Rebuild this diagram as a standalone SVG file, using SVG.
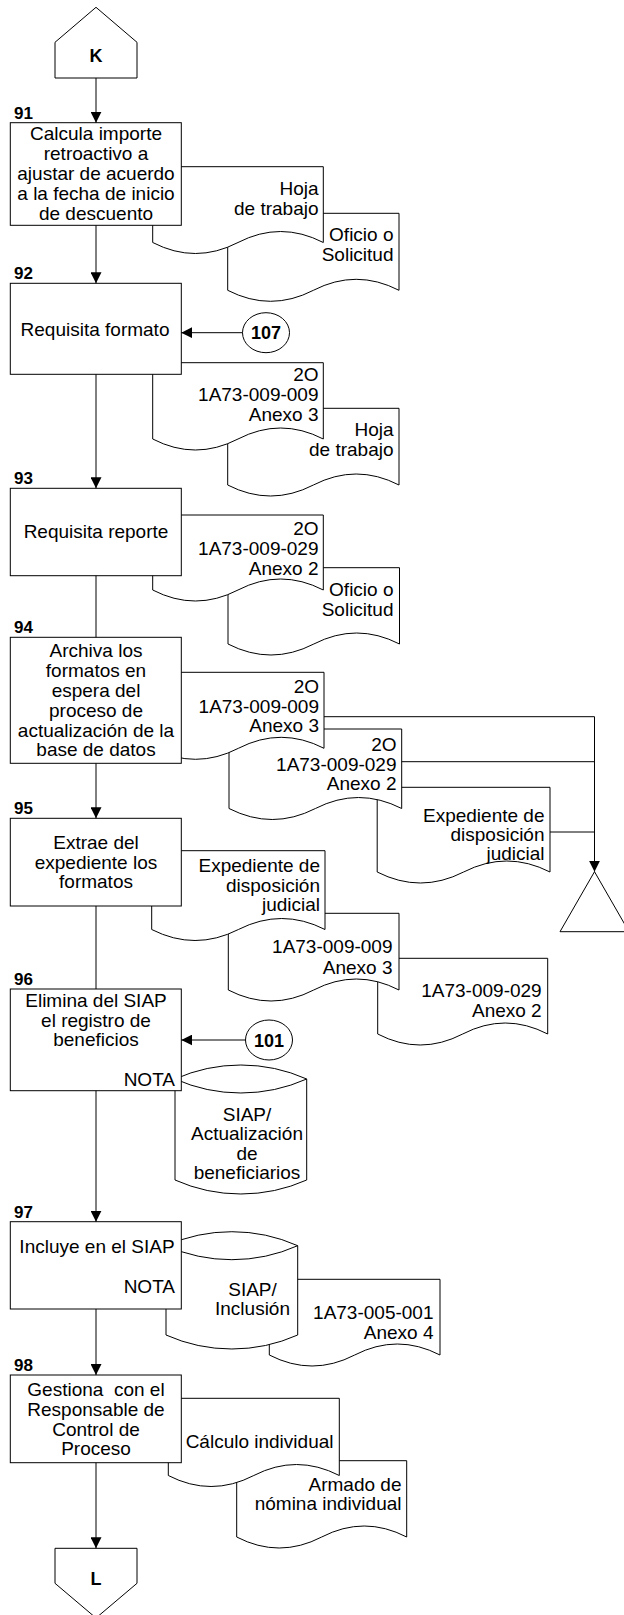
<svg xmlns="http://www.w3.org/2000/svg" width="624" height="1615" viewBox="0 0 624 1615">
  <defs>
    <marker id="arrow" markerUnits="userSpaceOnUse" markerWidth="11" markerHeight="11" viewBox="0 0 11 11" refX="11" refY="5.5" orient="auto">
      <path d="M0,0 L11,5.5 L0,11 Z" fill="#000"/>
    </marker>
    <style>
      .s { fill: #fff; stroke: #000; stroke-width: 1; }
      .ln { fill: none; stroke: #000; stroke-width: 1; }
      text { font-family: "Liberation Sans", Arial, Helvetica, sans-serif; font-size: 19px; fill: #000; }
      .c { text-anchor: middle; }
      .r { text-anchor: end; }
      .num { font-size: 17px; font-weight: bold; }
      .b { font-size: 18px; font-weight: bold; text-anchor: middle; }
      .pre { white-space: pre; }
    </style>
  </defs>

  <rect width="624" height="1615" fill="#fff"/>

  <!-- Off-page connector K -->
  <g id="conn-K">
    <path class="s" d="M55,42.3 L96,7.3 L137,42.3 V78 H55 Z"/>
    <text class="b" x="96" y="61.5">K</text>
  </g>

  <!-- Step 91 -->
  <g id="doc-91b">
    <path class="s" d="M227.7,213.3 H399 V290.3 Q356.2,268.3 313.4,290.3 T227.7,290.3 Z"/>
    <text class="r" x="393.5" y="241">Oficio o</text>
    <text class="r" x="393.5" y="260.5">Solicitud</text>
  </g>
  <g id="doc-91a">
    <path class="s" d="M152.7,166.7 H323.3 V242.5 Q280.6,220.5 238,242.5 T152.7,242.5 Z"/>
    <text class="r" x="318.5" y="195">Hoja</text>
    <text class="r" x="318.5" y="214.5">de trabajo</text>
  </g>
  <g id="step-91">
    <text class="num" x="14" y="119">91</text>
    <rect class="s" x="10.3" y="122.7" width="171" height="102.6"/>
    <text class="c" x="96" y="140">Calcula importe</text>
    <text class="c" x="96" y="160">retroactivo a</text>
    <text class="c" x="96" y="180">ajustar de acuerdo</text>
    <text class="c" x="96" y="200">a la fecha de inicio</text>
    <text class="c" x="96" y="220">de descuento</text>
  </g>

  <!-- Step 92 -->
  <g id="doc-92b">
    <path class="s" d="M227.7,408.3 H399 V485 Q356.2,463 313.4,485 T227.7,485 Z"/>
    <text class="r" x="393.5" y="436">Hoja</text>
    <text class="r" x="393.5" y="456">de trabajo</text>
  </g>
  <g id="doc-92a">
    <path class="s" d="M152.7,362.7 H323.3 V439 Q280.6,417 238,439 T152.7,439 Z"/>
    <text class="r" x="318.5" y="381">2O</text>
    <text class="r" x="318.5" y="401">1A73-009-009</text>
    <text class="r" x="318.5" y="421">Anexo 3</text>
  </g>
  <g id="step-92">
    <text class="num" x="14" y="279">92</text>
    <rect class="s" x="10.3" y="283.3" width="171" height="91"/>
    <text class="c" x="95" y="335.5">Requisita formato</text>
  </g>
  <g id="ref-107">
    <ellipse class="s" cx="266" cy="332.7" rx="23.5" ry="20"/>
    <text class="b" x="266" y="339">107</text>
  </g>

  <!-- Step 93 -->
  <g id="doc-93b">
    <path class="s" d="M228,567.7 H399.5 V644 Q356.6,622 313.8,644 T228,644 Z"/>
    <text class="r" x="393.5" y="596">Oficio o</text>
    <text class="r" x="393.5" y="615.5">Solicitud</text>
  </g>
  <g id="doc-93a">
    <path class="s" d="M152.7,515 H323.3 V590 Q280.6,568 238,590 T152.7,590 Z"/>
    <text class="r" x="318.5" y="535">2O</text>
    <text class="r" x="318.5" y="555">1A73-009-029</text>
    <text class="r" x="318.5" y="574.5">Anexo 2</text>
  </g>
  <g id="step-93">
    <text class="num" x="14" y="484">93</text>
    <rect class="s" x="10.3" y="488.3" width="171" height="87.4"/>
    <text class="c" x="96" y="537.5">Requisita reporte</text>
  </g>

  <!-- Step 94 -->
  <g id="doc-94c">
    <path class="s" d="M377.2,787.3 H550 V872 Q506.8,850 463.6,872 T377.2,872 Z"/>
    <text class="r" x="544.5" y="821.5">Expediente de</text>
    <text class="r" x="544.5" y="840.5">disposición</text>
    <text class="r" x="544.5" y="859.5">judicial</text>
  </g>
  <g id="doc-94b">
    <path class="s" d="M229,729 H401.7 V808.5 Q358.5,786.5 315.4,808.5 T229,808.5 Z"/>
    <text class="r" x="396.5" y="750.5">2O</text>
    <text class="r" x="396.5" y="770.5">1A73-009-029</text>
    <text class="r" x="396.5" y="790">Anexo 2</text>
  </g>
  <g id="doc-94a">
    <path class="s" d="M152.7,672.3 H324 V748.3 Q281.2,726.3 238.4,748.3 T152.7,748.3 Z"/>
    <text class="r" x="319" y="693">2O</text>
    <text class="r" x="319" y="712.5">1A73-009-009</text>
    <text class="r" x="319" y="731.5">Anexo 3</text>
  </g>
  <g id="step-94">
    <text class="num" x="14" y="633">94</text>
    <rect class="s" x="10.3" y="637.3" width="171" height="126"/>
    <text class="c" x="96" y="657">Archiva los</text>
    <text class="c" x="96" y="677">formatos en</text>
    <text class="c" x="96" y="697">espera del</text>
    <text class="c" x="96" y="716.5">proceso de</text>
    <text class="c" x="96" y="736.5">actualización de la</text>
    <text class="c" x="96" y="756">base de datos</text>
  </g>
  <g id="archive">
    <path class="s" d="M594.5,871.7 L560,931.7 H629 Z"/>
  </g>

  <!-- Step 95 -->
  <g id="doc-95c">
    <path class="s" d="M377.7,958.3 H547.7 V1034 Q505.2,1012 462.7,1034 T377.7,1034 Z"/>
    <text class="r" x="541.7" y="997">1A73-009-029</text>
    <text class="r" x="541.7" y="1017">Anexo 2</text>
  </g>
  <g id="doc-95b">
    <path class="s" d="M228.3,913.3 H399 V990 Q356.3,968 313.7,990 T228.3,990 Z"/>
    <text class="r" x="392.5" y="953">1A73-009-009</text>
    <text class="r" x="392.5" y="973.5">Anexo 3</text>
  </g>
  <g id="doc-95a">
    <path class="s" d="M151.7,850.7 H325 V929.5 Q281.7,907.5 238.4,929.5 T151.7,929.5 Z"/>
    <text class="r" x="320" y="872">Expediente de</text>
    <text class="r" x="320" y="891.5">disposición</text>
    <text class="r" x="320" y="910.5">judicial</text>
  </g>
  <g id="step-95">
    <text class="num" x="14" y="814">95</text>
    <rect class="s" x="10.3" y="818.3" width="171" height="87.7"/>
    <text class="c" x="96" y="849">Extrae del</text>
    <text class="c" x="96" y="869">expediente los</text>
    <text class="c" x="96" y="888">formatos</text>
  </g>

  <!-- Step 96 -->
  <g id="db-96">
    <path class="s" d="M175,1079 A161.9,161.9 0 0 1 306.7,1079 V1180 A161.9,161.9 0 0 1 175,1180 Z"/>
    <path class="ln" d="M175,1079 A161.9,161.9 0 0 0 306.7,1079"/>
    <text class="c" x="247" y="1120.5">SIAP/</text>
    <text class="c" x="247" y="1140">Actualización</text>
    <text class="c" x="247" y="1159.5">de</text>
    <text class="c" x="247" y="1179">beneficiarios</text>
  </g>
  <g id="step-96">
    <text class="num" x="14" y="985">96</text>
    <rect class="s" x="10.3" y="989" width="171" height="101.7"/>
    <text class="c" x="96" y="1007">Elimina del SIAP</text>
    <text class="c" x="96" y="1026.5">el registro de</text>
    <text class="c" x="96" y="1046">beneficios</text>
    <text class="r" x="175" y="1086">NOTA</text>
  </g>
  <g id="ref-101">
    <ellipse class="s" cx="269" cy="1040" rx="23.5" ry="20"/>
    <text class="b" x="269" y="1046.5">101</text>
  </g>

  <!-- Step 97 -->
  <g id="doc-97">
    <path class="s" d="M269.3,1279.3 H440 V1355 Q397.3,1333 354.7,1355 T269.3,1355 Z"/>
    <text class="r" x="433.5" y="1319">1A73-005-001</text>
    <text class="r" x="433.5" y="1339">Anexo 4</text>
  </g>
  <g id="db-97">
    <path class="s" d="M166,1245.7 A161.9,161.9 0 0 1 297.7,1245.7 V1335 A161.9,161.9 0 0 1 166,1335 Z"/>
    <path class="ln" d="M166,1245.7 A161.9,161.9 0 0 0 297.7,1245.7"/>
    <text class="c" x="252.5" y="1296">SIAP/</text>
    <text class="c" x="252.5" y="1315">Inclusión</text>
  </g>
  <g id="step-97">
    <text class="num" x="14" y="1217.5">97</text>
    <rect class="s" x="10.3" y="1221.7" width="171" height="87.3"/>
    <text class="c" x="97" y="1253">Incluye en el SIAP</text>
    <text class="r" x="175" y="1292.5">NOTA</text>
  </g>

  <!-- Step 98 -->
  <g id="doc-98b">
    <path class="s" d="M236.7,1460.7 H406.7 V1537 Q364.2,1515 321.7,1537 T236.7,1537 Z"/>
    <text class="r" x="401.5" y="1490.5">Armado de</text>
    <text class="r" x="401.5" y="1510">nómina individual</text>
  </g>
  <g id="doc-98a">
    <path class="s" d="M168.3,1398.3 H339.3 V1475.5 Q296.5,1453.5 253.8,1475.5 T168.3,1475.5 Z"/>
    <text class="r" x="333.5" y="1448">Cálculo individual</text>
  </g>
  <g id="step-98">
    <text class="num" x="14" y="1371">98</text>
    <rect class="s" x="10.3" y="1375" width="171" height="87.7"/>
    <text class="c pre" x="96" y="1395.5" xml:space="preserve">Gestiona  con el</text>
    <text class="c" x="96" y="1415.5">Responsable de</text>
    <text class="c" x="96" y="1435.5">Control de</text>
    <text class="c" x="96" y="1455">Proceso</text>
  </g>

  <!-- Off-page connector L -->
  <g id="conn-L">
    <path class="s" d="M55,1548.3 H137 V1583.3 L96,1618 L55,1583.3 Z"/>
    <text class="b" x="96" y="1584.5">L</text>
  </g>

  <!-- Flow lines -->
  <g id="connectors" class="ln">
    <path d="M96,78 V122.7" marker-end="url(#arrow)"/>
    <path d="M96,225.3 V283.3" marker-end="url(#arrow)"/>
    <path d="M96,374.3 V488.3" marker-end="url(#arrow)"/>
    <path d="M96,575.7 V637.3"/>
    <path d="M96,763.3 V818.3" marker-end="url(#arrow)"/>
    <path d="M96,906 V989"/>
    <path d="M96,1090.7 V1221.7" marker-end="url(#arrow)"/>
    <path d="M96,1309 V1375" marker-end="url(#arrow)"/>
    <path d="M96,1462.7 V1548.3" marker-end="url(#arrow)"/>
    <path d="M242.5,332.7 H181.3" marker-end="url(#arrow)"/>
    <path d="M245.5,1040 H181.3" marker-end="url(#arrow)"/>
    <path d="M324,716.7 H594.5 V871.7" marker-end="url(#arrow)"/>
    <path d="M401.7,761.7 H594.5"/>
    <path d="M550,832 H594.5"/>
  </g>
</svg>
